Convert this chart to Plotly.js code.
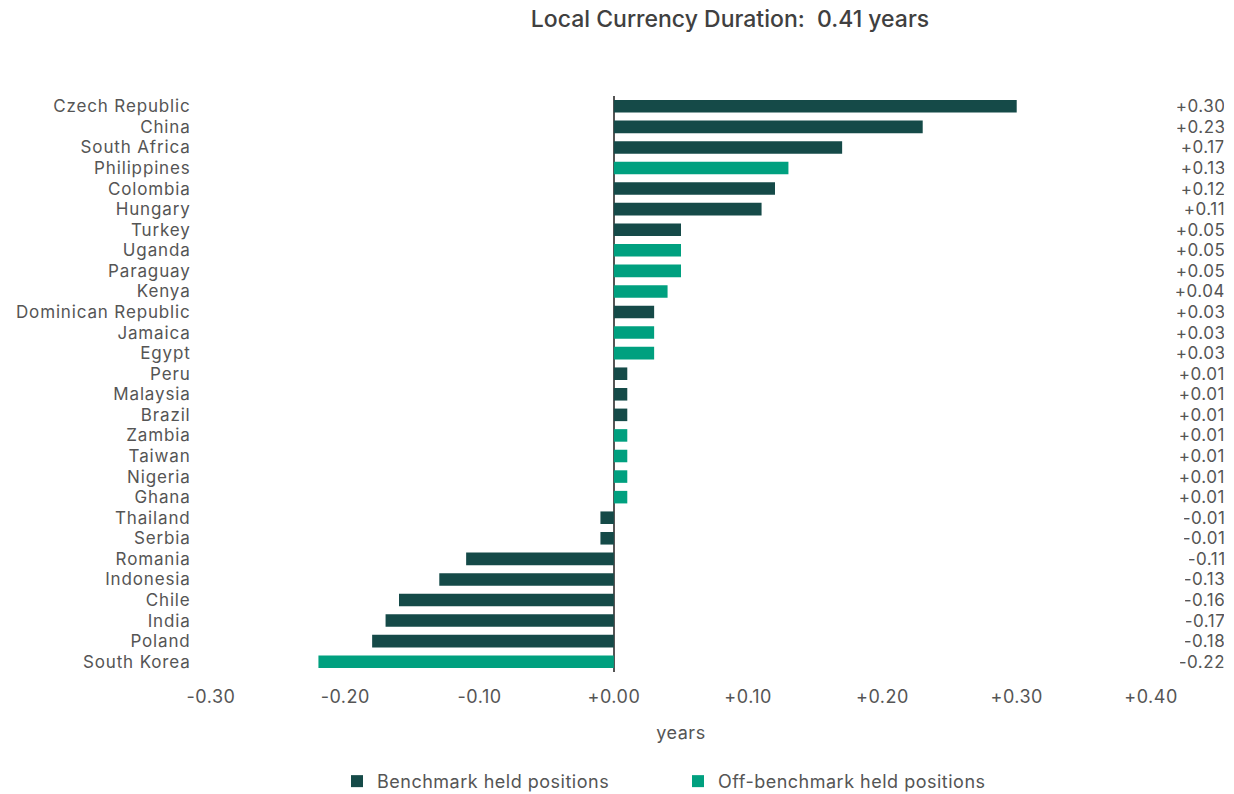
<!DOCTYPE html>
<html>
<head>
<meta charset="utf-8">
<script src="https://cdn.plot.ly/plotly-3.0.1.min.js"></script>
<style>
html,body{margin:0;padding:0;background:#fff}#chart{width:1234px;height:794px}
#chart .xtick text, #chart .annotation-text, #chart .legendtext, #chart .xtitle {letter-spacing:0.5px}
#chart .ytick text {letter-spacing:0.85px}
</style>
</head>
<body>
<div id="chart"></div>
<script>
const countries = ["Czech Republic","China","South Africa","Philippines","Colombia","Hungary","Turkey","Uganda","Paraguay","Kenya","Dominican Republic","Jamaica","Egypt","Peru","Malaysia","Brazil","Zambia","Taiwan","Nigeria","Ghana","Thailand","Serbia","Romania","Indonesia","Chile","India","Poland","South Korea"];
const durations = [0.30,0.23,0.17,0.13,0.12,0.11,0.05,0.05,0.05,0.04,0.03,0.03,0.03,0.01,0.01,0.01,0.01,0.01,0.01,0.01,-0.01,-0.01,-0.11,-0.13,-0.16,-0.17,-0.18,-0.22];
const offBenchmark = [false,false,false,true,false,false,false,true,true,true,false,true,true,false,false,false,true,true,true,true,false,false,false,false,false,false,false,true];
const xTickVals = [-0.30,-0.20,-0.10,0.00,0.10,0.20,0.30,0.40];
const seriesNames = ["Benchmark held positions","Off-benchmark held positions"];
const titleText = "Local Currency Duration:  0.41 years";

const fmt = v => (v < 0 ? "-" : "+") + Math.abs(v).toFixed(2);
const FONT = "Inter, 'DejaVu Sans', sans-serif";
const COL_DARK = "#154a48";
const COL_TEAL = "#00a07f";
const TXT = "#555555";
const FS = 17;

function pick(flag){
  const y=[],x=[];
  countries.forEach((c,i)=>{ if(offBenchmark[i]===flag){ y.push(c); x.push(durations[i]); } });
  return {x,y};
}
const b = pick(false), o = pick(true);
const traces = [
  {type:"bar", orientation:"h", name:seriesNames[0], x:b.x, y:b.y, marker:{color:COL_DARK}},
  {type:"bar", orientation:"h", name:seriesNames[1], x:o.x, y:o.y, marker:{color:COL_TEAL}}
];

const annotations = countries.map((c,i)=>({
  xref:"paper", yref:"y", x:1.0787, y:c, xanchor:"right", yanchor:"middle", height:18, borderpad:0,
  text:fmt(durations[i]), showarrow:false, font:{family:FONT,size:FS,color:TXT}
}));

const layout = {
  width:1234, height:794,
  margin:{l:211, r:83, t:96, b:122, autoexpand:false},
  paper_bgcolor:"#fff", plot_bgcolor:"#fff",
  font:{family:FONT, size:FS, color:TXT},
  title:{text:titleText, x:730/1234, xref:"container", xanchor:"center", y:1-19/794, yref:"container", yanchor:"middle",
         font:{family:FONT, size:23, color:"#404040", weight:500}},
  barmode:"relative", bargap:0.39,
  showlegend:true,
  legend:{orientation:"h", x:(337-211)/940, xanchor:"left", y:-0.19, yanchor:"middle", font:{size:18,color:TXT},
          traceorder:"normal", itemwidth:30, entrywidth:296, entrywidthmode:"pixels"},
  xaxis:{range:[-0.30,0.40], tickvals:xTickVals, ticktext:xTickVals.map(fmt), showgrid:false, automargin:false,
         zeroline:true, zerolinecolor:"#555", zerolinewidth:1.5, showline:false,
         ticks:"outside", ticklen:8, tickcolor:"rgba(0,0,0,0)", tickfont:{size:18},
         title:{text:"years", standoff:20, font:{size:18,color:TXT}}, fixedrange:true},
  yaxis:{type:"category", categoryorder:"array", categoryarray:countries, tickvals:countries, autorange:"reversed", automargin:false,
         showgrid:false, zeroline:false, showline:false, ticks:"outside", ticklen:16, tickcolor:"rgba(0,0,0,0)", fixedrange:true},
  annotations:annotations
};
Plotly.newPlot("chart", traces, layout, {displayModeBar:false, staticPlot:true});
</script>
</body>
</html>
